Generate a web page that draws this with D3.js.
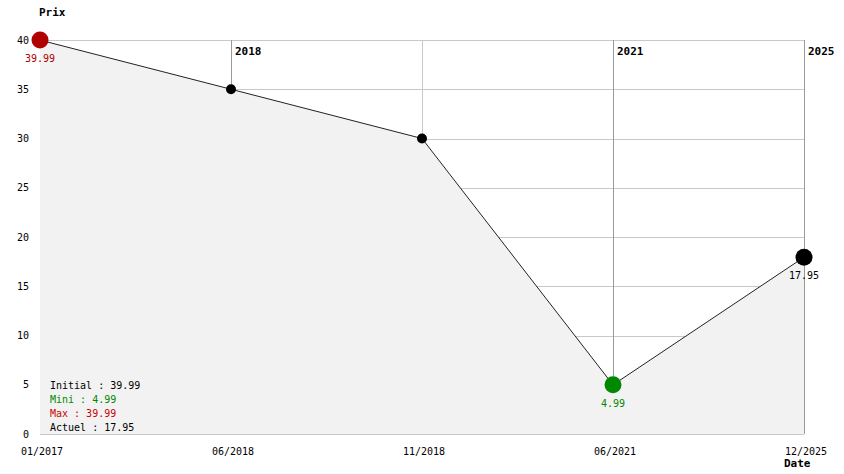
<!DOCTYPE html>
<html>
<head>
<meta charset="utf-8">
<script src="https://cdn.jsdelivr.net/npm/d3@7"></script>
<style>
  html, body { margin: 0; padding: 0; background: #fff; }
  svg { display: block; }
  text { font-family: "DejaVu Sans Mono", "Liberation Mono", monospace; }
</style>
</head>
<body>
<svg id="chart" width="844" height="474"></svg>
<script>
const dates = ["01/2017", "06/2018", "11/2018", "06/2021", "12/2025"];
const prices = [39.99, 35, 30, 4.99, 17.95];
const yTicks = [0, 5, 10, 15, 20, 25, 30, 35, 40];
const legendLabels = ["Initial", "Mini", "Max", "Actuel"];

(function () {
const svg = d3.select("#chart");
const pLeft = 40, pRight = 804, pTop = 40, pBottom = 434;

const x = d3.scalePoint().domain(dates).range([pLeft, pRight]);
const y = d3.scaleLinear().domain([0, 40]).range([pBottom, pTop]);

const data = dates.map((d, i) => ({ date: d, value: prices[i], year: d.split("/")[1] }));
const minV = d3.min(prices), maxV = d3.max(prices);
const initial = prices[0], actuel = prices[prices.length - 1];
const iMin = prices.indexOf(minV), iMax = prices.indexOf(maxV), iLast = prices.length - 1;

const RED = "#b00000", GREEN = "#008800";

// horizontal gridlines
svg.append("g").selectAll("line").data(yTicks).join("line")
  .attr("x1", pLeft).attr("x2", pRight)
  .attr("y1", d => Math.round(y(d)) + 0.5).attr("y2", d => Math.round(y(d)) + 0.5)
  .attr("stroke", "#c8c8c8").attr("stroke-width", 1);

// vertical gridlines
svg.append("g").selectAll("line").data(data).join("line")
  .attr("x1", d => Math.round(x(d.date)) + 0.5).attr("x2", d => Math.round(x(d.date)) + 0.5)
  .attr("y1", pTop).attr("y2", pBottom)
  .attr("stroke", (d, i) => (i > 0 && d.year !== data[i - 1].year) ? "#999999" : "#c8c8c8")
  .attr("stroke-width", 1);

// year labels
svg.append("g").selectAll("text").data(data.filter((d, i) => i > 0 && d.year !== data[i - 1].year)).join("text")
  .attr("x", d => x(d.date) + 4).attr("y", pTop + 15)
  .attr("font-size", 11).attr("font-weight", "bold").attr("fill", "#000")
  .text(d => d.year);

// area
const area = d3.area().x(d => x(d.date)).y0(pBottom).y1(d => y(d.value));
svg.append("path").datum(data).attr("d", area).attr("fill", "#f2f2f2");

// line
const line = d3.line().x(d => x(d.date)).y(d => y(d.value));
svg.append("path").datum(data).attr("d", line)
  .attr("fill", "none").attr("stroke", "#222").attr("stroke-width", 1);

// points
svg.append("g").selectAll("circle").data(data).join("circle")
  .attr("cx", d => x(d.date)).attr("cy", d => y(d.value))
  .attr("r", (d, i) => (i === iMin || i === iMax || i === iLast) ? 8.5 : 5)
  .attr("fill", (d, i) => i === iMax ? RED : i === iMin ? GREEN : "#000");

// value labels
svg.append("g").selectAll("text").data(data.filter((d, i) => i === iMin || i === iMax || i === iLast)).join("text")
  .attr("x", d => x(d.date)).attr("y", d => y(d.value) + 22)
  .attr("text-anchor", "middle").attr("font-size", 10)
  .attr("fill", d => d.value === maxV ? RED : d.value === minV ? GREEN : "#000")
  .text(d => d.value.toFixed(2));

// y axis
const yAxis = svg.append("g").attr("transform", `translate(${pLeft},0)`)
  .call(d3.axisLeft(y).tickValues(yTicks).tickSize(0).tickPadding(11));
yAxis.select(".domain").remove();
yAxis.selectAll("text").attr("font-family", "DejaVu Sans Mono, monospace").attr("font-size", 10).attr("fill", "#000");

// x axis
const xAxis = svg.append("g").attr("transform", `translate(1.5,${pBottom})`)
  .call(d3.axisBottom(x).tickSize(0).tickPadding(14));
xAxis.select(".domain").remove();
xAxis.selectAll("text").attr("font-family", "DejaVu Sans Mono, monospace").attr("font-size", 10).attr("fill", "#000");

// axis titles
svg.append("text").attr("x", 39).attr("y", 16).attr("font-size", 11).attr("font-weight", "bold").text("Prix");
svg.append("text").attr("x", 784).attr("y", 467).attr("font-size", 11).attr("font-weight", "bold").text("Date");

// legend
const legendVals = [initial, minV, maxV, actuel];
const legendColors = ["#000", GREEN, "#cc0000", "#000"];
svg.append("g").selectAll("text").data(legendLabels).join("text")
  .attr("x", 50).attr("y", (d, i) => 389 + i * 14)
  .attr("font-size", 10)
  .attr("fill", (d, i) => legendColors[i])
  .text((d, i) => `${d} : ${legendVals[i].toFixed(2)}`);
})();
</script>
</body>
</html>
